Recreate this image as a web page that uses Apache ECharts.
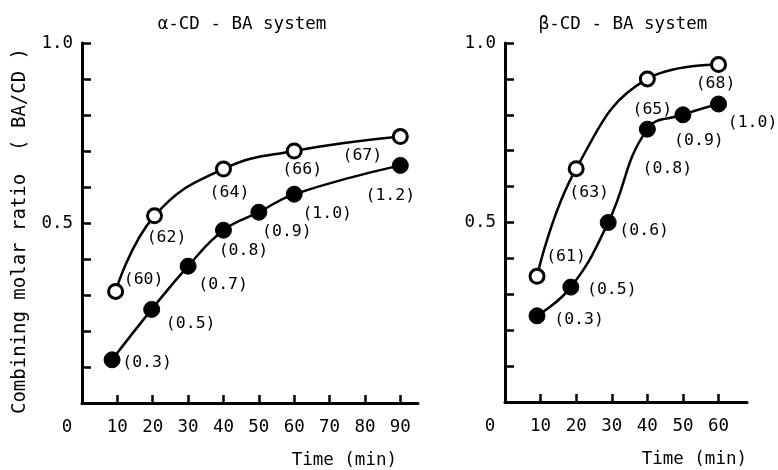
<!DOCTYPE html>
<html>
<head>
<meta charset="utf-8">
<script src="https://cdn.jsdelivr.net/npm/echarts@6/dist/echarts.min.js"></script>
<style>
  html, body { margin: 0; padding: 0; background: #fff; }
  #chart { width: 778px; height: 470px; }
</style>
</head>
<body>
<div id="chart"></div>
<script>
// alpha-CD - BA system
var alphaOpenTime = [9.5, 20.5, 40, 60, 90];
var alphaOpenRatio = [0.31, 0.52, 0.65, 0.70, 0.74];
var alphaOpenText = ['(60)', '(62)', '(64)', '(66)', '(67)'];
var alphaFillTime = [8.5, 19.7, 30, 40, 50, 60, 90];
var alphaFillRatio = [0.12, 0.26, 0.38, 0.48, 0.53, 0.58, 0.66];
var alphaFillText = ['(0.3)', '(0.5)', '(0.7)', '(0.8)', '(0.9)', '(1.0)', '(1.2)'];

// beta-CD - BA system
var betaOpenTime = [9, 20, 40, 60];
var betaOpenRatio = [0.35, 0.65, 0.90, 0.94];
var betaOpenText = ['(61)', '(63)', '(65)', '(68)'];
var betaFillTime = [9, 18.5, 29, 40, 50, 60];
var betaFillRatio = [0.24, 0.32, 0.50, 0.76, 0.80, 0.83];
var betaFillText = ['(0.3)', '(0.5)', '(0.6)', '(0.8)', '(0.9)', '(1.0)'];

var alphaTicks = [10, 20, 30, 40, 50, 60, 70, 80, 90];
var alphaTickLabels = [0, 10, 20, 30, 40, 50, 60, 70, 80, 90];
var betaTicks = [10, 20, 30, 40, 50, 60];
var betaTickLabels = [0, 10, 20, 30, 40, 50, 60];
var ratioTicks = [0.1, 0.2, 0.3, 0.4, 0.5, 0.6, 0.7, 0.8, 0.9, 1.0];
var ratioTickLabels = [0.5, 1.0];

// label offsets (px) from each marker centre
var alphaOpenOff = [[28, -12], [12, 22], [6, 24], [8, 19], [-38, 19]];
var alphaFillOff = [[35, 3], [39, 14], [35, 19], [20, 21], [28, 20], [33, 20], [-10, 30]];
var betaOpenOff = [[29, -20], [13, 24], [5, 31], [-3, 19]];
var betaFillOff = [[42, 4], [41, 3], [36, 8], [20, 40], [16, 26], [34, 19]];

var FONT = 'DejaVu Sans Mono';

function points(xs, ys, texts, offs) {
    var out = [];
    for (var i = 0; i < xs.length; i++) {
        out.push({
            value: [xs[i], ys[i]],
            label: { formatter: texts[i], offset: offs[i] }
        });
    }
    return out;
}

function curve(gi, data, open) {
    return {
        type: 'line',
        xAxisIndex: gi,
        yAxisIndex: gi,
        smooth: 0.45,
        symbol: 'circle',
        symbolSize: open ? 14 : 16,
        lineStyle: { color: '#000', width: 2.5 },
        itemStyle: open
            ? { color: '#fff', borderColor: '#000', borderWidth: 3 }
            : { color: '#000', borderColor: '#000', borderWidth: 1 },
        label: {
            show: true,
            position: 'inside',
            align: 'center',
            verticalAlign: 'middle',
            color: '#000',
            fontFamily: FONT,
            fontSize: 16.5
        },
        emphasis: { disabled: true },
        animation: false,
        data: data,
        z: 3
    };
}

function xAxis(gi, max, ticks, labels) {
    return {
        type: 'value',
        gridIndex: gi,
        min: 0,
        max: max,
        splitLine: { show: false },
        axisLine: { onZero: false, lineStyle: { color: '#000', width: 3 } },
        axisTick: { inside: true, length: 8, customValues: ticks, lineStyle: { color: '#000', width: 2.5 } },
        axisLabel: {
            customValues: labels,
            margin: 15,
            color: '#000',
            fontFamily: FONT,
            fontSize: 17.5,
            formatter: function (v) { return v === 0 ? '{z|0}' : String(v); },
            rich: { z: { padding: [0, 30, 0, 0], fontFamily: FONT, fontSize: 17.5, color: '#000' } }
        }
    };
}

function yAxis(gi) {
    return {
        type: 'value',
        gridIndex: gi,
        min: 0,
        max: 1,
        splitLine: { show: false },
        axisLine: { onZero: false, lineStyle: { color: '#000', width: 3 } },
        axisTick: { inside: true, length: 9, customValues: ratioTicks, lineStyle: { color: '#000', width: 2.5 } },
        axisLabel: {
            customValues: ratioTickLabels,
            margin: 9,
            color: '#000',
            fontFamily: FONT,
            fontSize: 17.5,
            formatter: function (v) { return v.toFixed(1); }
        }
    };
}

function txt(x, y, s, align, size, rot) {
    return {
        type: 'text', x: x, y: y, rotation: rot || 0,
        style: { text: s, fill: '#000', font: size + 'px "' + FONT + '"', align: align, verticalAlign: 'middle' }
    };
}

var chart = echarts.init(document.getElementById('chart'), null, { renderer: 'canvas' });
chart.setOption({
    backgroundColor: '#fff',
    animation: false,
    grid: [
        { left: 82, top: 43, width: 336, height: 360 },
        { left: 505, top: 43, width: 242, height: 359 }
    ],
    xAxis: [xAxis(0, 95, alphaTicks, alphaTickLabels), xAxis(1, 68, betaTicks, betaTickLabels)],
    yAxis: [yAxis(0), yAxis(1)],
    series: [
        curve(0, points(alphaOpenTime, alphaOpenRatio, alphaOpenText, alphaOpenOff), true),
        curve(0, points(alphaFillTime, alphaFillRatio, alphaFillText, alphaFillOff), false),
        curve(1, points(betaOpenTime, betaOpenRatio, betaOpenText, betaOpenOff), true),
        curve(1, points(betaFillTime, betaFillRatio, betaFillText, betaFillOff), false)
    ],
    graphic: [
        txt(242, 24, '\u03b1-CD - BA system', 'center', 17.5),
        txt(623, 24, '\u03b2-CD - BA system', 'center', 17.5),
        txt(397, 460, 'Time (min)', 'right', 17.5),
        txt(747, 459, 'Time (min)', 'right', 17.5),
        txt(20, 231, 'Combining molar ratio  ( BA/CD )', 'center', 19, Math.PI / 2)
    ]
});
</script>
</body>
</html>
